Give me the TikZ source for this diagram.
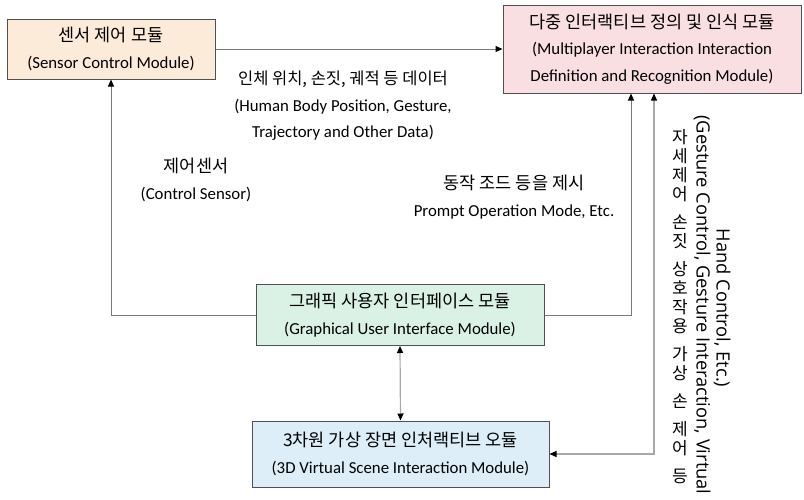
\documentclass[tikz,border=0pt]{standalone}
\usepackage{fontspec}
\setmainfont{Carlito}
\newfontfamily\krfont[WordSpace=1.5]{Noto Sans CJK KR}
\newfontfamily\krtightfont{Noto Sans CJK KR}
\newfontfamily\vfont{Open Sans}
\usetikzlibrary{arrows.meta}
\definecolor{peach}{HTML}{FDEBDA}
\definecolor{rose}{HTML}{F9DEE2}
\definecolor{mint}{HTML}{DAF1E6}
\definecolor{sky}{HTML}{DDEEF8}
\definecolor{edge}{HTML}{505050}
\definecolor{wire}{HTML}{7A7A7A}
\definecolor{wirelight}{HTML}{A8A8A8}
\newcommand\kr{\krfont\fontsize{17.5}{26.5}\selectfont}
\newcommand\krtight{\krtightfont\fontsize{16.5}{26.5}\selectfont}
\begin{document}
\begin{tikzpicture}[x=1pt,y=-1pt,
  module/.style={draw=edge, line width=1pt, inner sep=0pt, align=center,
    font=\fontsize{16.8}{26.5}\selectfont},
  lbl/.style={align=center, inner sep=0pt, font=\fontsize{16.8}{26.5}\selectfont},
  vlbl/.style={rotate=-90, inner sep=0pt, font=\vfont\fontsize{18.3}{20}\selectfont},
  tipend/.style={-{Triangle[length=7pt,width=6pt,color=black]}},
  tipboth/.style={{Triangle[length=7pt,width=6pt,color=black]}-{Triangle[length=7pt,width=6pt,color=black]}},
  conn/.style={draw=wire, line width=1pt},
  connlight/.style={draw=wirelight, line width=1.2pt}]
\useasboundingbox (0,0) rectangle (804,499);

% modules
\node[module, fill=peach, minimum width=208, minimum height=60] (sensor) at (111,49)
  {{\kr 센서 제어 모듈}\\(Sensor Control Module)};
\node[module, fill=rose, minimum width=298, minimum height=88] (multi) at (652,49)
  {{\kr 다중 인터랙티브 정의 및 인식 모듈}\\(Multiplayer Interaction Interaction\\Definition and Recognition Module)};
\node[module, fill=mint, minimum width=288, minimum height=61] (gui) at (400,315)
  {{\kr 그래픽 사용자 인터페이스 모듈}\\(Graphical User Interface Module)};
\node[module, fill=sky, minimum width=297, minimum height=66] (vr) at (400.5,454)
  {{\kr 3차원 가상 장면 인처랙티브 오듈}\\(3D Virtual Scene Interaction Module)};

% free ends on the bottom of the recognition module
\coordinate (m1) at (631,0);
\coordinate (m2) at (654,0);

% connectors
\draw[conn, tipend] (sensor.east) -- (multi.west);
\draw[conn, tipend] (gui.west) -| (sensor.south);
\draw[conn, tipend] (gui.east) -| (multi.south -| m1);
\draw[connlight, tipboth] (vr.east) -| (multi.south -| m2);
\draw[connlight, tipboth] (gui.south) -- (vr.north);

% labels
\node[lbl] (data) at (343,106)
  {{\krtight 인체 위치, 손짓, 궤적 등 데이터}\\(Human Body Position, Gesture,\\Trajectory and Other Data)};
\node[lbl] (ctrl) at (196,180)
  {{\kr 제어센서}\\(Control Sensor)};
\node[lbl] (prompt) at (514,197)
  {{\kr 동작 조드 등을 제시}\\Prompt Operation Mode, Etc.};

% vertical label beside the right-hand connector
\node[align=center, inner sep=0pt, font=\krfont\fontsize{17}{19}\selectfont] (vk) at (680,306.5)
  {자\\세\\제\\어\\[9pt]손\\짓\\[9pt]상\\호\\작\\용\\[9pt]가\\상\\[9pt]손\\[9pt]제\\어\\[9pt]등};
\node[vlbl] (vl1) at (702,305) {(Gesture Control, Gesture Interaction, Virtual};
\node[vlbl] (vl2) at (722,308) {Hand Control, Etc.)};
\end{tikzpicture}
\end{document}
